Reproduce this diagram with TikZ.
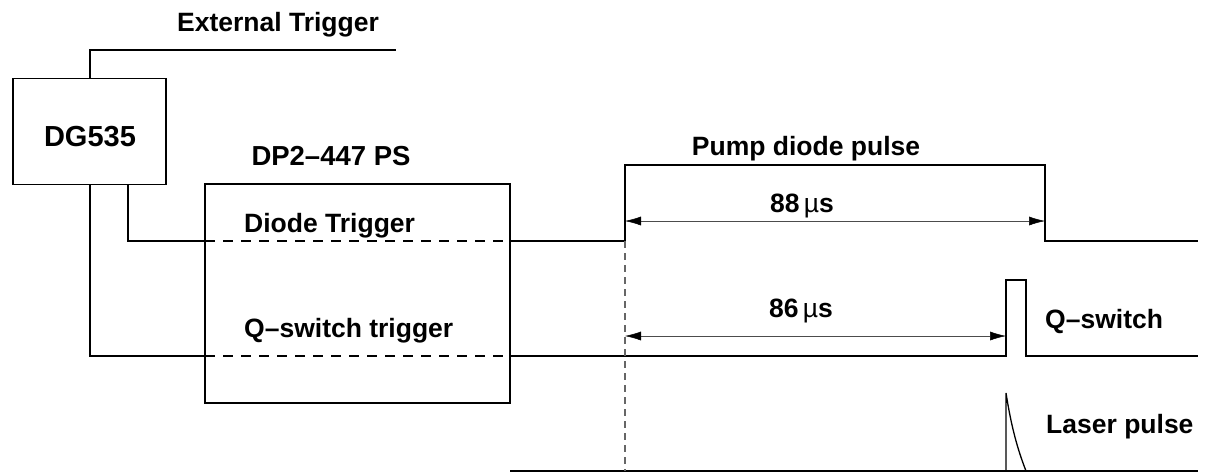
\documentclass[tikz,border=0pt]{standalone}
\usepackage{fontspec}
\setmainfont{Liberation Sans}
\usetikzlibrary{arrows.meta}
\begin{document}
\begin{tikzpicture}[x=1pt,y=-1pt,
  wire/.style={line width=1.5pt, line join=miter},
  hidden/.style={line width=1.5pt, dash pattern=on 10pt off 8pt},
  guide/.style={line width=1.2pt, gray!80!black, dash pattern=on 7pt off 5pt},
  dim/.style={line width=0.9pt, gray!60!black, {Latex[length=16pt 0,width=9pt 0,color=black,line width=0.5pt]}-{Latex[length=16pt 0,width=9pt 0,color=black,line width=0.5pt]}},
  lbl/.style={font=\fontsize{26.5}{26.5}\selectfont\bfseries, inner sep=0pt},
  box/.style={draw, line width=1.5pt, inner sep=0pt}]
\useasboundingbox (0,0) rectangle (1206,475);
% boxes
\node[box, minimum width=153pt, minimum height=106pt] (dg) at (89.5,131.5) {};
\node[lbl, font=\fontsize{29}{29}\selectfont\bfseries, anchor=base] (dgt) at (90,146) {DG535};
\node[box, minimum width=305pt, minimum height=219pt] (ps) at (357.5,293.5) {};
\node[lbl, font=\fontsize{27.5}{27.5}\selectfont\bfseries, anchor=base] (pst) at (331,165) {DP2\textendash447 PS};
% labels
\node[lbl, anchor=base] (ext) at (278,31) {External Trigger};
\node[lbl, anchor=base] (pump) at (806,155) {Pump diode pulse};
\node[lbl, anchor=base west] (dtl) at (244,232) {Diode Trigger};
\node[lbl, anchor=base west] (qtl) at (244,337) {Q\textendash switch trigger};
\node[lbl, anchor=base west] (qsl) at (1045,328) {Q\textendash switch};
\node[lbl, anchor=base west] (lpl) at (1046,433) {Laser pulse};
\node[lbl, anchor=base] (t88) at (802,212) {88\,{\mdseries µ}s};
\node[lbl, anchor=base] (t86) at (801,317) {86\,{\mdseries µ}s};
% coordinates
\coordinate (extend) at (396,50);
\coordinate (dgtop) at (90,78.5);
\coordinate (dgb1) at (90,184.5);
\coordinate (dgb2) at (128,184.5);
\coordinate (psl1) at (205,241);
\coordinate (psr1) at (510,241);
\coordinate (psl2) at (205,356);
\coordinate (psr2) at (510,356);
\coordinate (rise) at (625,241);
\coordinate (fall) at (1045,241);
\coordinate (dend) at (1198,241);
\coordinate (qup) at (1006,356);
\coordinate (qdn) at (1026,356);
\coordinate (qend) at (1198,356);
\coordinate (lstart) at (510,471);
\coordinate (lend) at (1198,471);
% external trigger
\draw[wire] (dgtop) -- (dgtop |- extend) -- (extend);
% diode trigger
\draw[wire] (dgb2) -- (dgb2 |- psl1) -- (psl1);
\draw[hidden] (psl1) -- (psr1);
\draw[wire] (psr1) -- (rise) -- ++(0,-76) -| (fall) -- (dend);
% q-switch trigger
\draw[wire] (dgb1) -- (dgb1 |- psl2) -- (psl2);
\draw[hidden] (psl2) -- (psr2);
\draw[wire] (psr2) -- (qup) -- ++(0,-76) -| (qdn) -- (qend);
% laser pulse
\draw[wire] (lstart) -- (lend);
\draw[wire, line width=1.3pt] (1006,471) -- (1006,393) .. controls (1011,425) and (1017,448) .. (1026,471);
% guide
\draw[guide] (rise) -- (625,471);
% dimensions
\draw[dim] (625,221) -- (1045,221);
\draw[dim] (625,336) -- (1006,336);
\end{tikzpicture}
\end{document}
